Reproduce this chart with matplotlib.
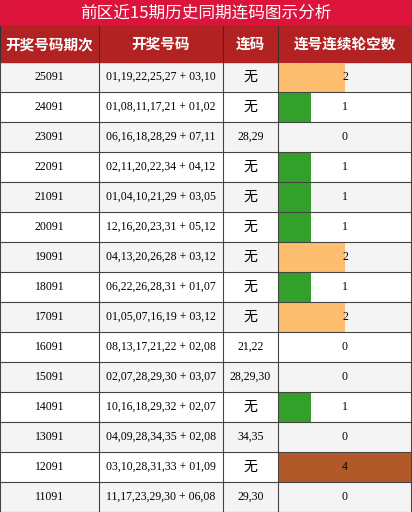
import matplotlib
matplotlib.use('Agg')
import matplotlib.pyplot as plt
from matplotlib.patches import Rectangle

periods = ['25091', '24091', '23091', '22091', '21091', '20091', '19091', '18091',
           '17091', '16091', '15091', '14091', '13091', '12091', '11091']
numbers = ['01,19,22,25,27 + 03,10', '01,08,11,17,21 + 01,02', '06,16,18,28,29 + 07,11',
           '02,11,20,22,34 + 04,12', '01,04,10,21,29 + 03,05', '12,16,20,23,31 + 05,12',
           '04,13,20,26,28 + 03,12', '06,22,26,28,31 + 01,07', '01,05,07,16,19 + 03,12',
           '08,13,17,21,22 + 02,08', '02,07,28,29,30 + 03,07', '10,16,18,29,32 + 02,07',
           '04,09,28,34,35 + 02,08', '03,10,28,31,33 + 01,09', '11,17,23,29,30 + 06,08']
lianma = ['无', '无', '28,29', '无', '无', '无', '无', '无', '无', '21,22', '28,29,30', '无',
          '34,35', '无', '29,30']
gaps = [2, 1, 0, 1, 1, 1, 2, 1, 2, 0, 0, 1, 0, 4, 0]
headers = ['开奖号码期次', '开奖号码', '连码', '连号连续轮空数']

colors = {1: '#33a02c', 2: '#fdbf6f', 4: '#b15928'}
cols = [0, 99, 223, 278, 412]
title_h, head_h, row_h = 26, 36, 30
cjk = ['Noto Sans CJK SC', 'DejaVu Sans']
serif = ['Liberation Serif', 'Noto Sans CJK SC']

fig = plt.figure(figsize=(4.12, 5.12), dpi=100)
ax = fig.add_axes([0, 0, 1, 1])
ax.set_xlim(0, 412)
ax.set_ylim(512, 0)
ax.axis('off')

ax.add_patch(Rectangle((0, 0), 412, title_h, color='#dc143c'))
ax.text(206, title_h / 2, '前区近15期历史同期连码图示分析', ha='center', va='center',
        color='white', fontsize=12, family=cjk)
ax.add_patch(Rectangle((0, title_h), 412, head_h, color='#b22222'))
for i, h in enumerate(headers):
    ax.text((cols[i] + cols[i + 1]) / 2, title_h + head_h / 2, h, ha='center', va='center',
            color='white', fontsize=10.5, fontweight='bold', family=cjk)
    ax.plot([cols[i], cols[i]], [title_h, title_h + head_h], color='#333333', lw=0.8)

top = title_h + head_h
ys = [top + row_h * (k + 0.5) for k in range(len(periods))]
for k, y in enumerate(ys):
    bg = '#f4f4f4' if k % 2 == 0 else 'white'
    ax.add_patch(Rectangle((0, y - row_h / 2), 412, row_h, color=bg, zorder=0))

bar_w = cols[4] - cols[3]
ax.barh(ys, [g / 4 * bar_w for g in gaps], left=cols[3], height=row_h - 1,
        color=[colors.get(g, 'white') for g in gaps], zorder=1)

for k, y in enumerate(ys):
    ax.text((cols[0] + cols[1]) / 2, y, periods[k], ha='center', va='center', fontsize=8.5, family=serif)
    ax.text((cols[1] + cols[2]) / 2, y, numbers[k], ha='center', va='center', fontsize=8.5, family=serif)
    ax.text((cols[2] + cols[3]) / 2, y, lianma[k], ha='center', va='center',
            fontsize=10 if lianma[k] == '无' else 8.5, family=serif)
    ax.text((cols[3] + cols[4]) / 2, y, str(gaps[k]), ha='center', va='center', fontsize=8.5,
            family=serif, zorder=3)
    ax.plot([0, 412], [y + row_h / 2, y + row_h / 2], color='#444444', lw=0.8, zorder=2)

for x in cols[1:4]:
    ax.plot([x, x], [top, 512], color='#444444', lw=0.8, zorder=2)
ax.plot([0, 0], [top, 512], color='#444444', lw=1.5, zorder=2)
ax.plot([412, 412], [top, 512], color='#444444', lw=1.5, zorder=2)

fig.savefig('out.png', dpi=100)
